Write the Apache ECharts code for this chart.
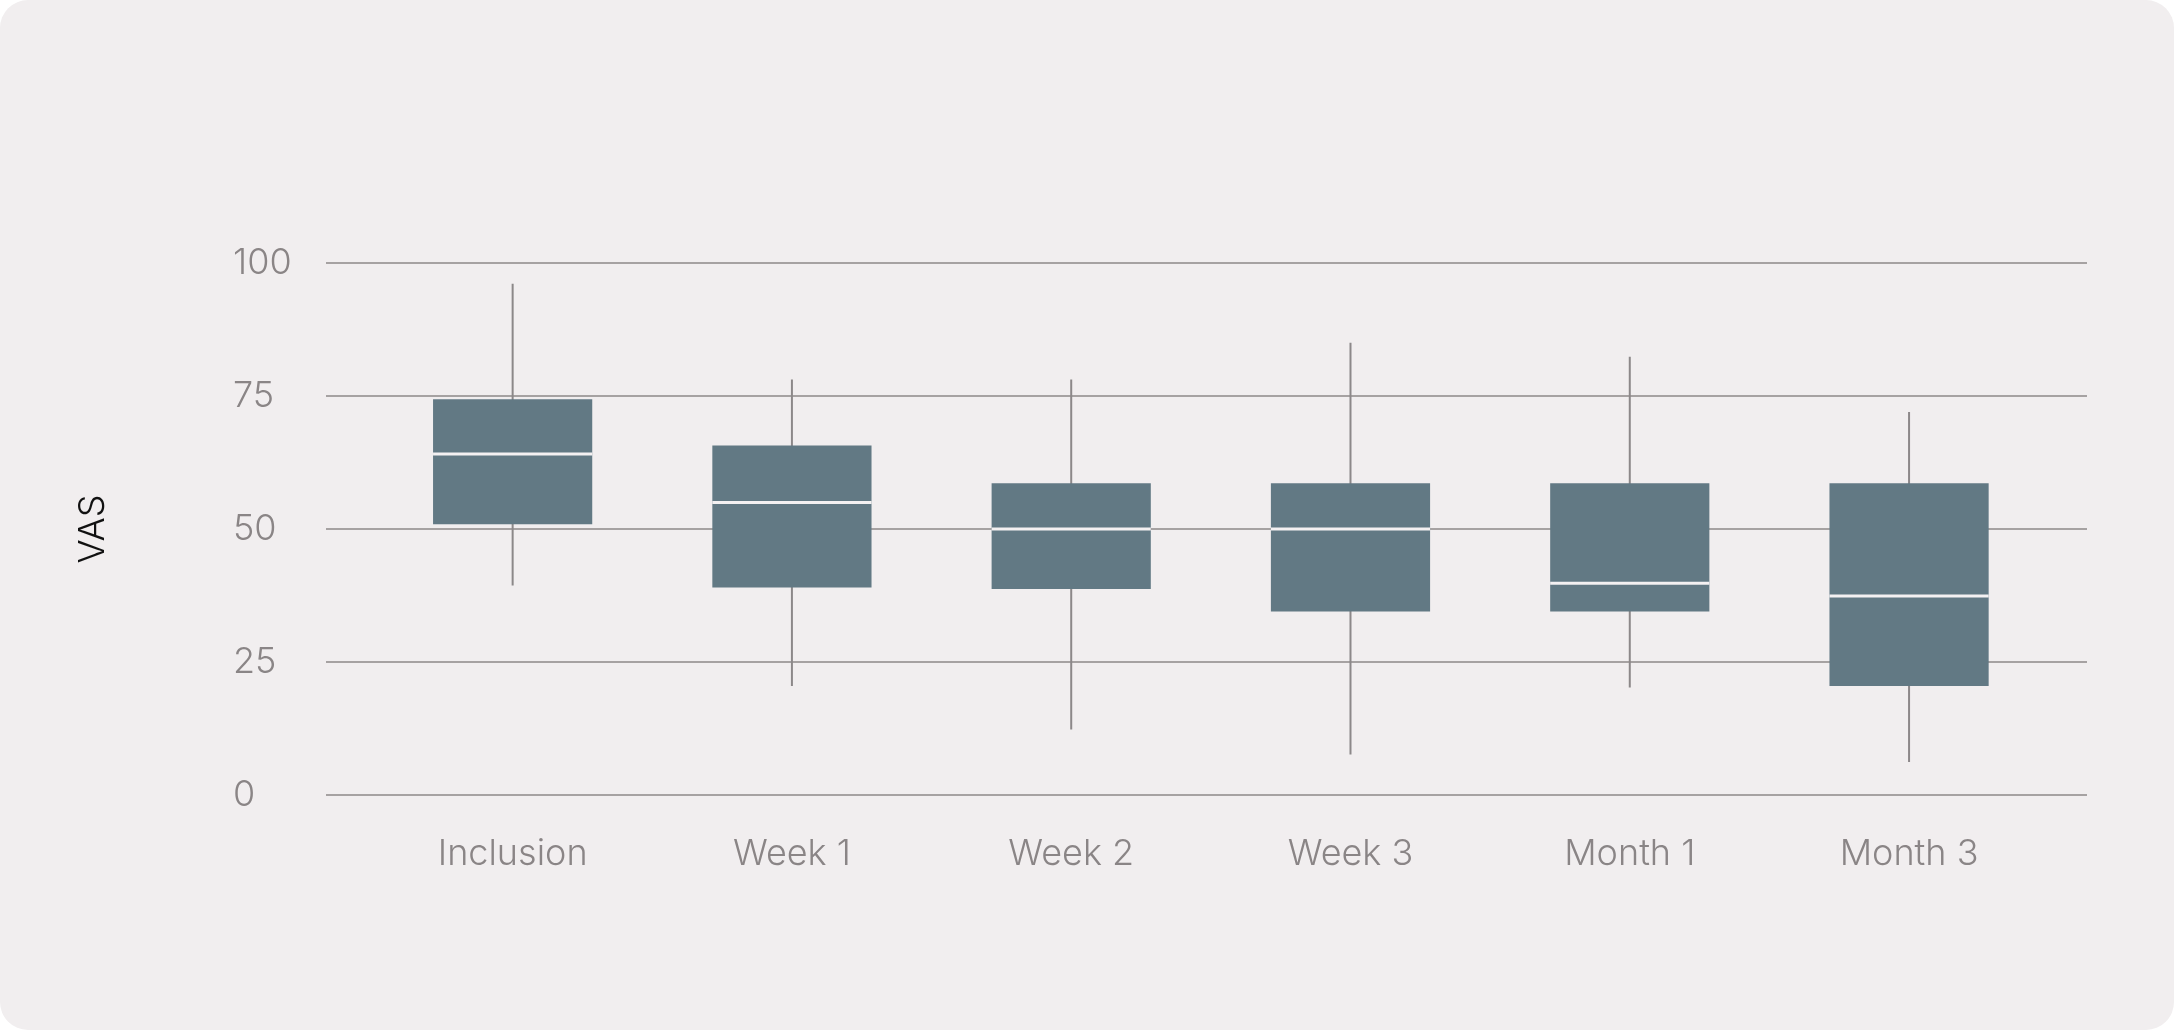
<!DOCTYPE html>
<html><head><meta charset="utf-8">
<script src="https://cdn.jsdelivr.net/npm/echarts@6/dist/echarts.min.js"></script>
<style>
html,body{margin:0;padding:0;background:#ffffff;}
#wrap{width:2174px;height:1030px;background:#f1eeef;border-radius:28px;overflow:hidden;}
#chart{width:2174px;height:1030px;}
</style></head><body><div id="wrap"><div id="chart"></div></div>
<script>
// ---- data ----
const categories = ['Inclusion', 'Week 1', 'Week 2', 'Week 3', 'Month 1', 'Month 3'];
const whiskerLow  = [39.4, 20.5, 12.3, 7.6, 20.2, 6.2];
const q1          = [50.9, 39.0, 38.7, 34.5, 34.5, 20.5];
const median      = [64.1, 55.0, 50.0, 50.0, 39.8, 37.4];
const q3          = [74.4, 65.7, 58.6, 58.6, 58.6, 58.6];
const whiskerHigh = [96.1, 78.1, 78.1, 85.0, 82.4, 72.0];
const yTicks = [0, 25, 50, 75, 100];
const yName = 'VAS';

const yMin = yTicks[0], yMax = yTicks[yTicks.length - 1], yStep = yTicks[1] - yTicks[0];
const boxData = categories.map((c, i) => [i, whiskerLow[i], q1[i], median[i], q3[i], whiskerHigh[i]]);

const labelFont = { fontFamily: 'Inter', fontWeight: 300, fontSize: 36, color: '#8a8586' };

const chart = echarts.init(document.getElementById('chart'), null, { renderer: 'canvas' });
chart.setOption({
  backgroundColor: 'transparent',
  animation: false,
  grid: [
    { left: 373, right: 125.3, top: 263, bottom: 235 },
    { left: 326, right: 87, top: 263, bottom: 235 }
  ],
  xAxis: [
    { type: 'category', gridIndex: 0, data: categories, boundaryGap: true,
      axisLine: { show: false }, axisTick: { show: false }, splitLine: { show: false },
      axisLabel: Object.assign({ margin: 41 }, labelFont) },
    { type: 'value', gridIndex: 1, min: 0, max: 1, show: false }
  ],
  yAxis: [
    { type: 'value', gridIndex: 0, min: yMin, max: yMax, interval: yStep, show: false },
    { type: 'value', gridIndex: 1, min: yMin, max: yMax, interval: yStep,
      axisLine: { show: false }, axisTick: { show: false },
      splitLine: { show: true, lineStyle: { color: '#8c8889', width: 1.6 } },
      axisLabel: Object.assign({ align: 'left', margin: 93 }, labelFont),
      name: yName, nameLocation: 'middle', nameRotate: 90, nameGap: 215,
      nameTextStyle: { fontFamily: 'Inter', fontWeight: 300, fontSize: 36, color: '#111111' } }
  ],
  series: [{
    type: 'custom',
    xAxisIndex: 0, yAxisIndex: 0,
    data: boxData,
    encode: { x: 0, y: [1, 2, 3, 4, 5] },
    renderItem: function (params, api) {
      const x = api.value(0);
      const pLow = api.coord([x, api.value(1)]);
      const pQ1 = api.coord([x, api.value(2)]);
      const pMed = api.coord([x, api.value(3)]);
      const pQ3 = api.coord([x, api.value(4)]);
      const pHigh = api.coord([x, api.value(5)]);
      const bw = api.size([1, 0])[0] * 0.57;
      return { type: 'group', children: [
        { type: 'line', shape: { x1: pLow[0], y1: pLow[1], x2: pHigh[0], y2: pHigh[1] },
          style: { stroke: '#8c8889', lineWidth: 2 } },
        { type: 'rect', shape: { x: pQ3[0] - bw / 2, y: pQ3[1], width: bw, height: pQ1[1] - pQ3[1] },
          style: { fill: '#627984' } },
        { type: 'line', shape: { x1: pMed[0] - bw / 2, y1: pMed[1], x2: pMed[0] + bw / 2, y2: pMed[1] },
          style: { stroke: '#f4f1f2', lineWidth: 3 } }
      ] };
    }
  }]
});
</script></body></html>
